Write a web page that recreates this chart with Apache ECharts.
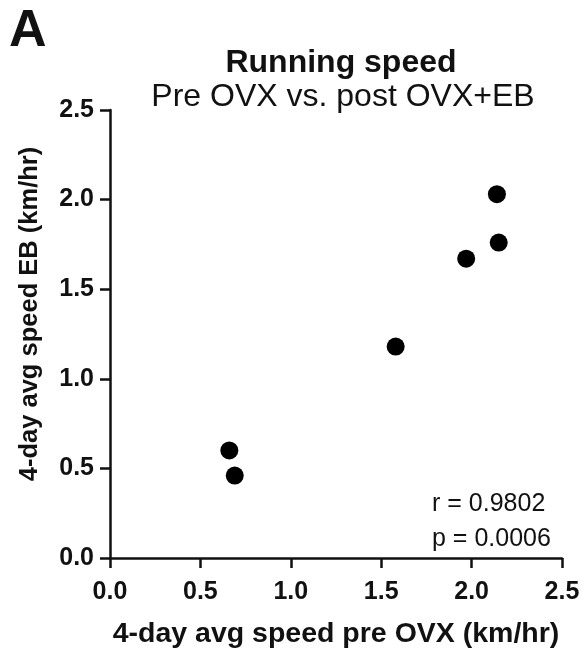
<!DOCTYPE html>
<html>
<head>
<meta charset="utf-8">
<script src="https://cdn.jsdelivr.net/npm/echarts@6/dist/echarts.min.js"></script>
<style>
	html, body { margin: 0; padding: 0; background: #fff; }
	#chart { width: 584px; height: 654px; }
</style>
</head>
<body>
<div id="chart"></div>
<script>
// values
const preOVX = [2.14, 2.15, 1.97, 1.58, 0.66, 0.69]
const postEB = [2.03, 1.76, 1.67, 1.18, 0.60, 0.46]
const tickValues = [0, 0.5, 1, 1.5, 2, 2.5]
const statLines = ['r = 0.9802', 'p = 0.0006']

const font = "'Liberation Sans', Arial, Helvetica, sans-serif"

chartMain = () => {
	var chart = echarts.init(document.getElementById('chart'))

	var points = preOVX.map(function (x, i) {
		return [x, postEB[i]]
	})

	var axisCommon = {
		type: 'value',
		min: tickValues[0],
		max: tickValues[tickValues.length - 1],
		interval: 0.5,
		nameLocation: 'middle',
		axisLine: { show: true, onZero: false, lineStyle: { color: '#111', width: 2.5 } },
		axisTick: { show: true, inside: false, length: 10, lineStyle: { color: '#111', width: 2.5 } },
		splitLine: { show: false },
		axisLabel: {
			fontFamily: font,
			fontWeight: 'bold',
			fontSize: 25,
			color: '#111',
			formatter: function (v) {
				return v.toFixed(1)
			},
		},
	}

	var option = {
		backgroundColor: '#fff',
		animation: false,
		title: [
			{
				text: 'Running speed',
				left: 336,
				top: 42,
				textAlign: 'center',
				textStyle: { fontFamily: font, fontWeight: 'bold', fontSize: 32, color: '#111' },
			},
			{
				text: 'Pre OVX vs. post OVX+EB',
				left: 338,
				top: 76,
				textAlign: 'center',
				textStyle: { fontFamily: font, fontWeight: 'normal', fontSize: 32, color: '#111' },
			},
		],
		graphic: [
			{
				type: 'text',
				left: 9,
				top: 6,
				style: { text: 'A', font: 'bold 52px ' + font, fill: '#111' },
			},
			{
				// y axis title, placed a bit above the axis middle as in the figure
				type: 'text',
				x: 30,
				y: 314,
				rotation: Math.PI / 2,
				style: {
					text: '4-day avg speed EB (km/hr)',
					font: 'bold 25.5px ' + font,
					fill: '#111',
					align: 'center',
					verticalAlign: 'middle',
				},
			},
			{
				type: 'text',
				left: 432,
				top: 487,
				style: { text: statLines.join('\n'), font: '25px ' + font, lineHeight: 35, fill: '#111' },
			},
		],
		grid: { left: 110, right: 22, top: 110, bottom: 94, containLabel: false },
		xAxis: Object.assign({}, axisCommon, {
			name: '4-day avg speed pre OVX (km/hr)',
			nameGap: 62,
			nameTextStyle: { fontFamily: font, fontWeight: 'bold', fontSize: 28.5, color: '#111' },
			axisLabel: Object.assign({}, axisCommon.axisLabel, { margin: 22 }),
		}),
		yAxis: Object.assign({}, axisCommon, {
			axisLabel: Object.assign({}, axisCommon.axisLabel, { margin: 16 }),
		}),
		series: [
			{
				type: 'scatter',
				symbol: 'circle',
				symbolSize: 18,
				itemStyle: { color: '#000', opacity: 1 },
				data: points,
			},
		],
	}

	chart.setOption(option)
}

chartMain()
</script>
</body>
</html>
